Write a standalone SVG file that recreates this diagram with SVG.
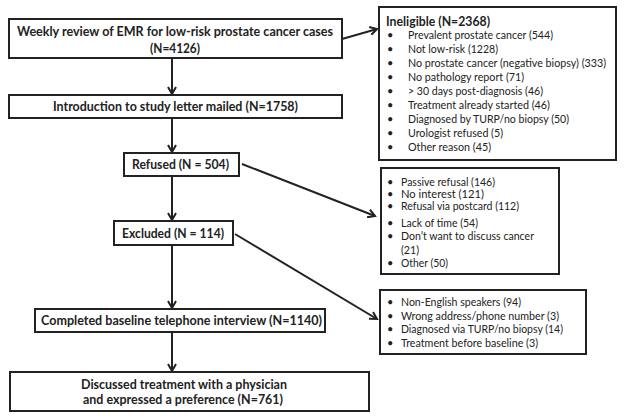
<svg xmlns="http://www.w3.org/2000/svg" width="624" height="420" viewBox="0 0 624 420">
<style>
.box{fill:#fff;stroke:#222;stroke-width:2}
.t{font-family:Lato,"Liberation Sans",sans-serif;font-weight:bold;font-size:12.5px;fill:#222}
.l{font-family:Lato,"Liberation Sans",sans-serif;font-size:11px;fill:#222}
.h{font-family:Lato,"Liberation Sans",sans-serif;font-weight:bold;font-size:13.5px;fill:#222}
.c{stroke:#222;stroke-width:2;fill:none;marker-end:url(#a)}
</style>
<defs>
<marker id="a" markerWidth="10" markerHeight="10" refX="8" refY="5" orient="auto" markerUnits="userSpaceOnUse">
<path d="M1,1 L8,5 L1,9" fill="none" stroke="#222" stroke-width="2"/>
</marker>
</defs>
<rect width="624" height="420" fill="#fff"/>
<g id="connectors">
<line class="c" x1="172" y1="58" x2="172" y2="94"/>
<line class="c" x1="172" y1="118" x2="172" y2="152"/>
<line class="c" x1="172" y1="176" x2="172" y2="220"/>
<line class="c" x1="172" y1="245" x2="172" y2="308"/>
<line class="c" x1="172" y1="332" x2="172" y2="371"/>
<line class="c" x1="342" y1="39" x2="377" y2="29"/>
<line class="c" x1="242" y1="164" x2="375" y2="216"/>
<line class="c" x1="235" y1="234" x2="377" y2="319"/>
</g>
<g id="n1">
<rect class="box" x="9" y="19" width="333" height="39"/>
<text class="t" x="17" y="36" textLength="316" lengthAdjust="spacingAndGlyphs">Weekly review of EMR for low-risk prostate cancer  cases</text>
<text class="t" x="150" y="53" textLength="50" lengthAdjust="spacingAndGlyphs">(N=4126)</text>
</g>
<g id="n2">
<rect class="box" x="9" y="95" width="333" height="23"/>
<text class="t" x="53" y="111" textLength="245" lengthAdjust="spacingAndGlyphs">Introduction to study letter mailed (N=1758)</text>
</g>
<g id="n3">
<rect class="box" x="124" y="153" width="115" height="23"/>
<text class="t" x="132" y="169" textLength="97" lengthAdjust="spacingAndGlyphs">Refused (N = 504)</text>
</g>
<g id="n4">
<rect class="box" x="114" y="221" width="119" height="24"/>
<text class="t" x="122" y="238" textLength="102" lengthAdjust="spacingAndGlyphs">Excluded (N = 114)</text>
</g>
<g id="n5">
<rect class="box" x="35" y="309" width="290" height="23"/>
<text class="t" x="41" y="325" textLength="281" lengthAdjust="spacingAndGlyphs">Completed baseline telephone interview (N=1140)</text>
</g>
<g id="n6">
<rect class="box" x="10" y="372" width="359" height="39"/>
<text class="t" x="81" y="389" textLength="206" lengthAdjust="spacingAndGlyphs">Discussed treatment with a physician</text>
<text class="t" x="83" y="404" textLength="200" lengthAdjust="spacingAndGlyphs">and expressed a preference (N=761)</text>
</g>
<g id="n7">
<rect class="box" x="379" y="7" width="237" height="153"/>
<text class="h" x="386" y="26" textLength="104" lengthAdjust="spacingAndGlyphs">Ineligible (N=2368)</text>
<g class="l">
<text x="387" y="39">•</text><text x="408" y="39" textLength="145" lengthAdjust="spacingAndGlyphs">Prevalent prostate cancer (544)</text>
<text x="387" y="53">•</text><text x="408" y="53" textLength="90" lengthAdjust="spacingAndGlyphs">Not low-risk (1228)</text>
<text x="387" y="67">•</text><text x="408" y="67" textLength="198" lengthAdjust="spacingAndGlyphs">No prostate cancer (negative biopsy) (333)</text>
<text x="387" y="81">•</text><text x="408" y="81" textLength="116" lengthAdjust="spacingAndGlyphs">No pathology report (71)</text>
<text x="387" y="95">•</text><text x="408" y="95" textLength="135" lengthAdjust="spacingAndGlyphs">&gt; 30 days post-diagnosis (46)</text>
<text x="387" y="109">•</text><text x="408" y="109" textLength="142" lengthAdjust="spacingAndGlyphs">Treatment already started (46)</text>
<text x="387" y="123">•</text><text x="408" y="123" textLength="161" lengthAdjust="spacingAndGlyphs">Diagnosed by TURP/no biopsy (50)</text>
<text x="387" y="137">•</text><text x="408" y="137" textLength="95" lengthAdjust="spacingAndGlyphs">Urologist refused (5)</text>
<text x="387" y="151">•</text><text x="408" y="151" textLength="83" lengthAdjust="spacingAndGlyphs">Other reason (45)</text>
</g>
</g>
<g id="n8">
<rect class="box" x="381" y="168" width="178" height="106"/>
<g class="l">
<text x="387" y="186">•</text><text x="401" y="186" textLength="94" lengthAdjust="spacingAndGlyphs">Passive refusal (146)</text>
<text x="387" y="198">•</text><text x="401" y="198" textLength="83" lengthAdjust="spacingAndGlyphs">No interest (121)</text>
<text x="387" y="210">•</text><text x="401" y="210" textLength="118" lengthAdjust="spacingAndGlyphs">Refusal via postcard (112)</text>
<text x="387" y="227">•</text><text x="401" y="227" textLength="77" lengthAdjust="spacingAndGlyphs">Lack of time (54)</text>
<text x="387" y="240">•</text><text x="401" y="240" textLength="133" lengthAdjust="spacingAndGlyphs">Don’t want to discuss cancer</text>
<text x="401" y="254" textLength="18" lengthAdjust="spacingAndGlyphs">(21)</text>
<text x="387" y="267">•</text><text x="401" y="267" textLength="47" lengthAdjust="spacingAndGlyphs">Other (50)</text>
</g>
</g>
<g id="n9">
<rect class="box" x="380" y="290" width="206" height="64"/>
<g class="l">
<text x="387" y="306">•</text><text x="401" y="306" textLength="120" lengthAdjust="spacingAndGlyphs">Non-English speakers (94)</text>
<text x="387" y="320">•</text><text x="401" y="320" textLength="158" lengthAdjust="spacingAndGlyphs">Wrong address/phone number (3)</text>
<text x="387" y="333">•</text><text x="401" y="333" textLength="162" lengthAdjust="spacingAndGlyphs">Diagnosed via TURP/no biopsy (14)</text>
<text x="387" y="347">•</text><text x="401" y="347" textLength="137" lengthAdjust="spacingAndGlyphs">Treatment before baseline (3)</text>
</g>
</g>
</svg>
